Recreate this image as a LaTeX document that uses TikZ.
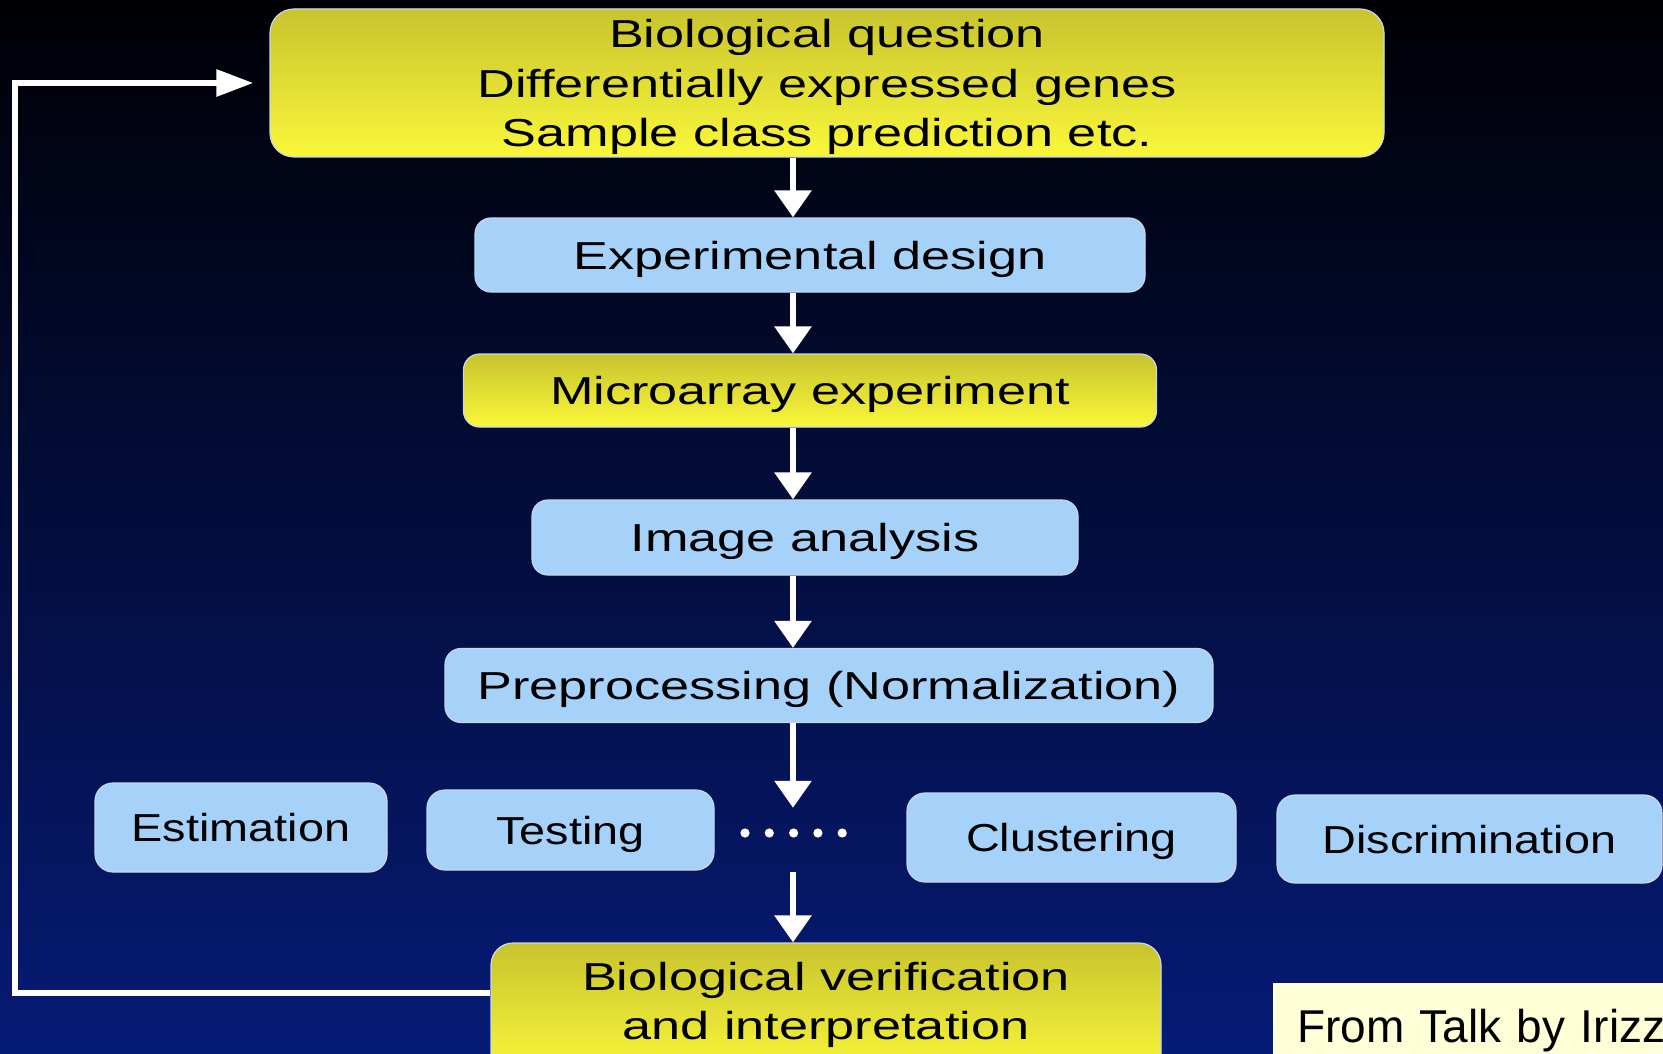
\documentclass[tikz,border=0pt]{standalone}
\usepackage{fontspec}
\setmainfont{Liberation Sans}
\newfontfamily\colfont[FakeStretch=1.34]{Liberation Sans}
\newfontfamily\rowfont[FakeStretch=1.2]{Liberation Sans}
\newfontfamily\notefont{Liberation Sans}
\usetikzlibrary{arrows.meta}

\definecolor{bgtop}{RGB}{0,0,4}
\definecolor{bgmid}{RGB}{2,12,64}
\definecolor{bgbot}{RGB}{6,27,118}
\definecolor{skyfill}{RGB}{166,210,250}
\definecolor{boxline}{RGB}{200,214,235}
\definecolor{yeltop}{RGB}{200,196,46}
\definecolor{yelbot}{RGB}{250,247,58}
\definecolor{notefill}{RGB}{255,255,215}

\begin{document}
\begin{tikzpicture}[x=1pt,y=-1pt,
  stepbase/.style={rounded corners=16pt, draw=boxline, line width=1.2pt,
    inner sep=0pt, text=black, text height=28pt, text depth=0pt,
    font=\colfont\fontsize{39}{50}\selectfont},
  bluebox/.style={stepbase, fill=skyfill},
  yellowbox/.style={stepbase, fill=yelbot,
    path picture={\shade[top color=yeltop, bottom color=yelbot]
      (path picture bounding box.north west) rectangle
      (path picture bounding box.south east);}},
  rowbox/.style={bluebox, rounded corners=18pt, font=\rowfont\fontsize{39}{50}\selectfont},
  flow/.style={draw=white, line width=6pt, -{Triangle[width=36pt,length=27pt]}},
  back/.style={draw=white, line width=6pt, -{Triangle[width=26pt,length=37pt]}},
]
\useasboundingbox (0,0) rectangle (1663,1054);
\clip (0,0) rectangle (1663,1054);

% backdrop
\shade[top color=bgtop, middle color=bgmid, bottom color=bgbot]
  (0,0) rectangle (1663,1054);

% main column (multi-line nodes: baseline is the last line)
\node[yellowbox, rounded corners=24pt, minimum width=1114pt, minimum height=148pt,
      align=center, text height=128pt, text depth=0pt] (question) at (827,83)
  {Biological question\\Differentially expressed genes\\Sample class prediction etc.};
\node[bluebox, minimum width=670pt, minimum height=74pt] (design) at (810,255)
  {Experimental design};
\node[yellowbox, minimum width=693pt, minimum height=73pt] (micro) at (810,390.5)
  {Microarray experiment};
\node[bluebox, minimum width=546pt, minimum height=75pt] (image) at (805,537.5)
  {Image analysis};
\node[bluebox, minimum width=768pt, minimum height=74pt] (pre) at (829,685.5)
  {Preprocessing (Normalization)};

% analysis row
\node[rowbox, minimum width=292pt, minimum height=89pt] (est) at (241,827.5)
  {Estimation};
\node[rowbox, minimum width=287pt, minimum height=80pt] (test) at (570.5,830)
  {Testing};
\node[minimum width=110pt, minimum height=50pt, inner sep=0pt] (dots) at (793,833) {};
\foreach \i in {0,...,4}
  \fill[white] (745+24.3*\i,833) circle (4.6pt);
\node[rowbox, minimum width=329pt, minimum height=89pt] (clust) at (1071.5,837.5)
  {Clustering};
\node[rowbox, minimum width=385pt, minimum height=88pt] (discr) at (1469.5,839)
  {Discrimination};

% final step
\node[yellowbox, rounded corners=22pt, minimum width=670pt, minimum height=132pt,
      align=center, text height=60pt, text depth=0pt,
      font=\colfont\fontsize{39}{49}\selectfont]
  (verif) at (826,1009)
  {Biological verification\\and interpretation};

% spine of the flow and the return rail
\coordinate (spine) at (793,0);
\coordinate (rail) at (15,500);

\draw[flow] (question.south -| spine) -- (design.north -| spine);
\draw[flow] (design.south -| spine) -- (micro.north -| spine);
\draw[flow] (micro.south -| spine) -- (image.north -| spine);
\draw[flow] (image.south -| spine) -- (pre.north -| spine);
\draw[flow] (pre.south -| spine) -- (dots.north);
\draw[flow] ([yshift=-14pt]dots.south) -- (verif.north -| spine);
\draw[back] ([yshift=16pt]verif.west) -| (rail) |- ([xshift=-16pt]question.west);

% credit note
\node[anchor=base west, fill=notefill, inner xsep=24pt, inner ysep=24pt,
      text height=35pt, text depth=20pt, text width=400pt,
      font=\notefont\fontsize{46}{54}\selectfont, text=black] (note) at (1273,1042)
  {From Talk by Irizz};
\end{tikzpicture}
\end{document}
